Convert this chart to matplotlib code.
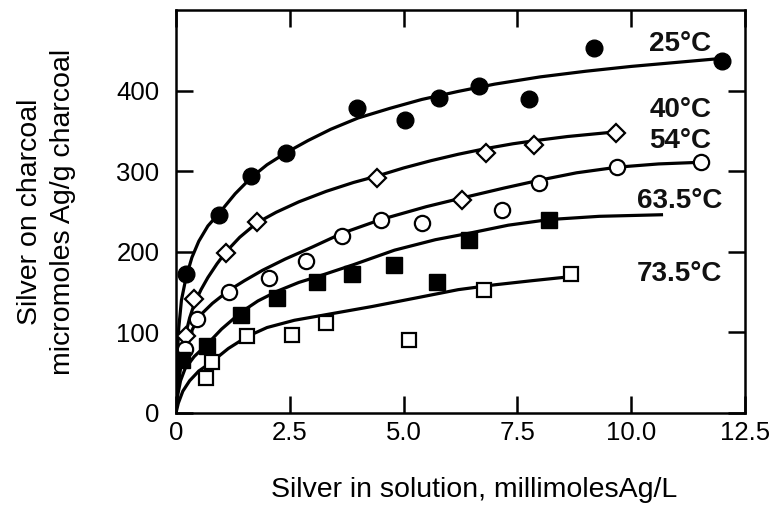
import matplotlib.pyplot as plt

plt.rcParams['font.family'] = ['Liberation Sans', 'DejaVu Sans']

# --- measured points (read from the figure) ---
# 25 C, filled circles
c25 = [0.22, 0.95, 1.65, 2.42, 3.98, 5.03, 5.78, 6.66, 7.76, 9.19, 12.0]
q25 = [172, 246, 294, 323, 378, 363, 391, 406, 390, 453, 437]
# 40 C, open diamonds (the one at 6.29 sits on the 54 C curve in the original)
c40 = [0.22, 0.40, 1.10, 1.78, 4.42, 6.29, 6.81, 7.87, 9.67]
q40 = [95, 141, 199, 237, 291, 264, 322, 332, 348]
# 54 C, open circles
c54 = [0.20, 0.46, 1.16, 2.04, 2.86, 3.65, 4.50, 5.40, 7.16, 7.98, 9.69, 11.54]
q54 = [79, 116, 150, 168, 188, 219, 240, 236, 252, 285, 305, 311]
# 63.5 C, filled squares
c63 = [0.13, 0.68, 1.43, 2.22, 3.10, 3.87, 4.79, 5.73, 6.44, 8.20]
q63 = [66, 83, 122, 143, 163, 172, 184, 162, 215, 240]
# 73.5 C, open squares
c73 = [0.66, 0.80, 1.57, 2.55, 3.30, 5.12, 6.77, 8.68]
q73 = [44, 63, 95, 97, 112, 91, 153, 172]

# --- fitted isotherm curves ---
fit25_c = [0, 0.02, 0.06, 0.12, 0.22, 0.35, 0.5, 0.7, 0.95, 1.3, 1.65, 2.0, 2.42,
           2.9, 3.4, 4.0, 4.7, 5.4, 6.2, 7.0, 8.0, 9.0, 10.0, 11.0, 12.0]
fit25_q = [0, 60, 105, 140, 168, 193, 213, 232, 248, 272, 292, 308, 323,
           338, 352, 366, 378, 389, 399, 408, 417, 424, 430, 435, 440]
fit40_c = [0, 0.03, 0.1, 0.2, 0.3, 0.4, 0.55, 0.7, 0.9, 1.1, 1.4, 1.78, 2.2,
           2.7, 3.3, 3.9, 4.42, 5.0, 5.6, 6.2, 6.8, 7.4, 7.9, 8.6, 9.7]
fit40_q = [0, 35, 70, 95, 118, 135, 153, 168, 185, 200, 218, 236, 249,
           262, 275, 286, 294, 304, 313, 321, 328, 334, 338, 343, 349]
fit54_c = [0, 0.03, 0.1, 0.22, 0.33, 0.46, 0.6, 0.8, 1.16, 1.5, 1.9, 2.4,
           3.0, 3.65, 4.5, 5.5, 6.3, 7.2, 8.0, 8.8, 9.7, 10.6, 11.5]
fit54_q = [0, 28, 55, 80, 100, 115, 125, 136, 152, 164, 177, 191,
           206, 223, 240, 256, 267, 279, 289, 298, 305, 309, 311]
fit63_c = [0, 0.03, 0.1, 0.2, 0.4, 0.68, 1.0, 1.43, 1.8, 2.22, 2.7, 3.1,
           3.9, 4.8, 5.7, 6.44, 7.3, 8.2, 9.3, 10.7]
fit63_q = [0, 20, 40, 55, 70, 85, 104, 125, 139, 151, 162, 169,
           184, 202, 215, 223, 233, 240, 244, 246]
fit73_c = [0, 0.05, 0.15, 0.3, 0.5, 0.8, 1.15, 1.57, 2.0, 2.6, 3.3, 4.3,
           5.3, 6.2, 7.0, 7.8, 8.65]
fit73_q = [0, 12, 27, 40, 52, 64, 80, 95, 106, 115, 122, 132,
           143, 153, 159, 164, 169]

labels = ['25°C', '40°C', '54°C', '63.5°C', '73.5°C']
label_x = [11.76, 11.76, 11.76, 12.0, 12.0]
label_y = [458, 376, 337, 263, 172]

fig = plt.figure(figsize=(7.77, 5.13), dpi=100, facecolor='white')
ax = fig.add_axes([0.2265, 0.195, 0.7323, 0.7855])

line_kw = dict(color='black', linewidth=2.3, solid_capstyle='butt',
               solid_joinstyle='round', zorder=2)
for fc, fq in [(fit25_c, fit25_q), (fit40_c, fit40_q), (fit54_c, fit54_q),
               (fit63_c, fit63_q), (fit73_c, fit73_q)]:
    ax.plot(fc, fq, **line_kw)

ax.plot(c25, q25, 'o', ms=12, mfc='black', mec='black', zorder=3)
ax.plot(c40, q40, 'D', ms=9, mfc='white', mec='black', mew=1.6, zorder=3)
ax.plot(c54, q54, 'o', ms=11, mfc='white', mec='black', mew=1.6, zorder=3)
ax.plot(c63, q63, 's', ms=11, mfc='black', mec='black', zorder=3)
ax.plot(c73, q73, 's', ms=10, mfc='white', mec='black', mew=1.6, zorder=3)

for txt, lx, ly in zip(labels, label_x, label_y):
    ax.text(lx, ly, txt, ha='right', va='center', fontsize=20,
            fontweight='bold', color='#111111')

ax.set_xlim(0, 12.5)
ax.set_ylim(0, 500)
ax.set_xticks([0, 2.5, 5.0, 7.5, 10.0, 12.5])
ax.set_xticklabels(['0', '2.5', '5.0', '7.5', '10.0', '12.5'])
ax.set_yticks([0, 100, 200, 300, 400])

ax.tick_params(direction='in', length=12, width=1.8, top=True, right=True,
               labelsize=18.5, pad=6, colors='black')
ax.tick_params(axis='y', pad=12)
for s in ax.spines.values():
    s.set_linewidth(1.8)
    s.set_color('black')

ax.set_xlabel('Silver in solution, millimolesAg/L', fontsize=20.5)
ax.xaxis.set_label_coords(0.524, -0.158)
ax.set_ylabel('Silver on charcoal\nmicromoles Ag/g charcoal', fontsize=20.5,
              linespacing=1.35)
ax.yaxis.set_label_coords(-0.175, 0.5)

fig.savefig('out.png', dpi=100, facecolor='white')
